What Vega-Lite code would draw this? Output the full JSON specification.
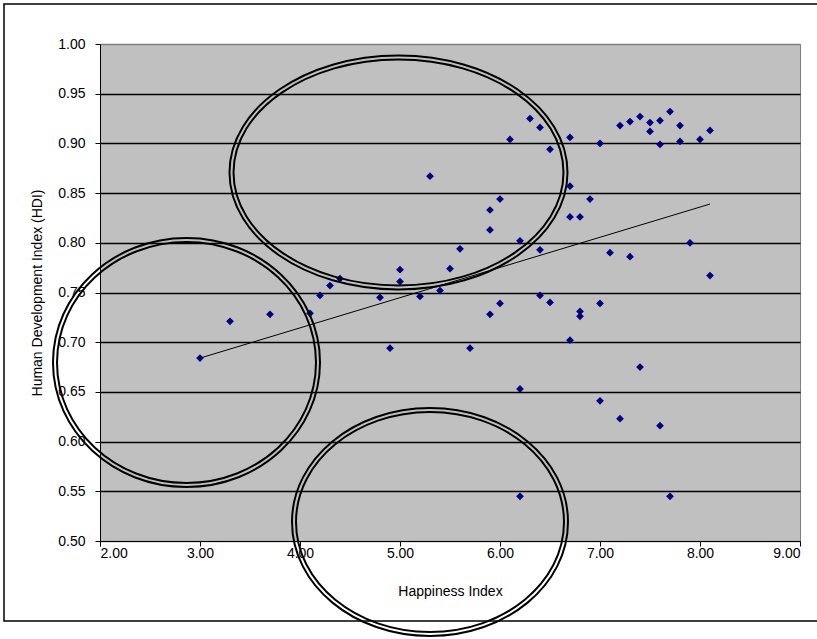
{
  "$schema": "https://vega.github.io/schema/vega-lite/v6.json",
  "width": 700,
  "height": 497,
  "autosize": {"type": "none"},
  "padding": {"left": 100, "top": 44, "right": 17, "bottom": 98},
  "background": "white",
  "config": {
    "view": {"fill": "#C0C0C0", "stroke": "#808080", "strokeWidth": 1},
    "font": "Liberation Sans",
    "axis": {
      "labelFont": "Liberation Sans",
      "labelFontSize": 14,
      "labelColor": "#000000",
      "titleFont": "Liberation Sans",
      "titleFontSize": 14,
      "titleFontWeight": "normal",
      "titleColor": "#000000",
      "domainColor": "#000000",
      "tickColor": "#000000",
      "tickSize": 5
    }
  },
  "datasets": {
    "countries": [
      {"happiness": 3.0, "hdi": 0.684},
      {"happiness": 3.3, "hdi": 0.721},
      {"happiness": 3.7, "hdi": 0.728},
      {"happiness": 4.1, "hdi": 0.729},
      {"happiness": 4.2, "hdi": 0.747},
      {"happiness": 4.3, "hdi": 0.757},
      {"happiness": 4.4, "hdi": 0.764},
      {"happiness": 4.8, "hdi": 0.745},
      {"happiness": 4.9, "hdi": 0.694},
      {"happiness": 5.0, "hdi": 0.773},
      {"happiness": 5.0, "hdi": 0.761},
      {"happiness": 5.2, "hdi": 0.746},
      {"happiness": 5.3, "hdi": 0.867},
      {"happiness": 5.4, "hdi": 0.752},
      {"happiness": 5.5, "hdi": 0.774},
      {"happiness": 5.6, "hdi": 0.794},
      {"happiness": 5.7, "hdi": 0.694},
      {"happiness": 5.9, "hdi": 0.833},
      {"happiness": 5.9, "hdi": 0.813},
      {"happiness": 5.9, "hdi": 0.728},
      {"happiness": 6.0, "hdi": 0.844},
      {"happiness": 6.0, "hdi": 0.739},
      {"happiness": 6.1, "hdi": 0.904},
      {"happiness": 6.2, "hdi": 0.653},
      {"happiness": 6.2, "hdi": 0.802},
      {"happiness": 6.2, "hdi": 0.545},
      {"happiness": 6.3, "hdi": 0.925},
      {"happiness": 6.4, "hdi": 0.916},
      {"happiness": 6.4, "hdi": 0.793},
      {"happiness": 6.4, "hdi": 0.747},
      {"happiness": 6.5, "hdi": 0.894},
      {"happiness": 6.5, "hdi": 0.740},
      {"happiness": 6.7, "hdi": 0.906},
      {"happiness": 6.7, "hdi": 0.857},
      {"happiness": 6.7, "hdi": 0.826},
      {"happiness": 6.7, "hdi": 0.702},
      {"happiness": 6.8, "hdi": 0.826},
      {"happiness": 6.8, "hdi": 0.731},
      {"happiness": 6.8, "hdi": 0.726},
      {"happiness": 6.9, "hdi": 0.844},
      {"happiness": 7.0, "hdi": 0.900},
      {"happiness": 7.0, "hdi": 0.739},
      {"happiness": 7.0, "hdi": 0.641},
      {"happiness": 7.1, "hdi": 0.790},
      {"happiness": 7.2, "hdi": 0.918},
      {"happiness": 7.2, "hdi": 0.623},
      {"happiness": 7.3, "hdi": 0.922},
      {"happiness": 7.3, "hdi": 0.786},
      {"happiness": 7.4, "hdi": 0.927},
      {"happiness": 7.4, "hdi": 0.675},
      {"happiness": 7.5, "hdi": 0.921},
      {"happiness": 7.5, "hdi": 0.912},
      {"happiness": 7.6, "hdi": 0.923},
      {"happiness": 7.6, "hdi": 0.899},
      {"happiness": 7.6, "hdi": 0.616},
      {"happiness": 7.7, "hdi": 0.932},
      {"happiness": 7.7, "hdi": 0.545},
      {"happiness": 7.8, "hdi": 0.918},
      {"happiness": 7.8, "hdi": 0.902},
      {"happiness": 7.9, "hdi": 0.800},
      {"happiness": 8.0, "hdi": 0.904},
      {"happiness": 8.1, "hdi": 0.913},
      {"happiness": 8.1, "hdi": 0.767}
    ],
    "trend": [
      {"happiness": 3.0, "hdi": 0.684},
      {"happiness": 8.1, "hdi": 0.839}
    ],
    "circles": [
      {"name": "top", "happiness": 4.985, "hdi": 0.8707},
      {"name": "left", "happiness": 2.865, "hdi": 0.6796},
      {"name": "bottom", "happiness": 5.30, "hdi": 0.5191}
    ],
    "frame": [
      {"x1": 1.04, "x2": 9.2, "y1": 1.0402, "y2": 0.4195}
    ]
  },
  "layer": [
    {
      "data": {"name": "frame"},
      "mark": {"type": "rect", "fill": null, "fillOpacity": 0, "stroke": "#000000", "strokeWidth": 1.5, "clip": false},
      "encoding": {
        "x": {"field": "x1", "type": "quantitative", "scale": {"domain": [2, 9], "nice": false, "zero": false}},
        "x2": {"field": "x2"},
        "y": {"field": "y1", "type": "quantitative", "scale": {"domain": [0.5, 1.0], "nice": false, "zero": false}},
        "y2": {"field": "y2"}
      }
    },
    {
      "data": {"name": "countries"},
      "mark": {"type": "point", "shape": "diamond", "filled": true, "color": "#000080", "size": 60, "opacity": 1},
      "encoding": {
        "x": {
          "field": "happiness", "type": "quantitative",
          "scale": {"domain": [2, 9], "nice": false, "zero": false},
          "axis": {"title": "Happiness Index", "values": [2, 3, 4, 5, 6, 7, 8, 9], "format": ".2f", "grid": false, "labelPadding": 0, "titlePadding": 24}
        },
        "y": {
          "field": "hdi", "type": "quantitative",
          "scale": {"domain": [0.5, 1.0], "nice": false, "zero": false},
          "axis": {
            "title": "Human Development Index (HDI)",
            "values": [0.5, 0.55, 0.6, 0.65, 0.7, 0.75, 0.8, 0.85, 0.9, 0.95, 1.0],
            "format": ".2f",
            "grid": true,
            "gridColor": {"condition": {"test": "datum.value > 0.99 || datum.value < 0.51", "value": "#808080"}, "value": "#000000"},
            "gridWidth": 1.4,
            "gridOpacity": 1,
            "labelPadding": 10,
            "titlePadding": 13
          }
        }
      }
    },
    {
      "data": {"name": "trend"},
      "mark": {"type": "line", "color": "#000000", "strokeWidth": 1},
      "encoding": {
        "x": {"field": "happiness", "type": "quantitative", "scale": {"domain": [2, 9], "nice": false, "zero": false}},
        "y": {"field": "hdi", "type": "quantitative", "scale": {"domain": [0.5, 1.0], "nice": false, "zero": false}}
      }
    },
    {
      "data": {"name": "circles"},
      "transform": [{"filter": "datum.name === 'top'"}],
      "mark": {
        "type": "point", "filled": false, "stroke": "#000000", "strokeWidth": 2, "opacity": 1, "size": 114244, "clip": false,
        "shape": "M1,0C1,0.3824 0.5523,0.6923 0,0.6923C-0.5523,0.6923 -1,0.3824 -1,0C-1,-0.3824 -0.5523,-0.6923 0,-0.6923C0.5523,-0.6923 1,-0.3824 1,0Z M0.9763,0C0.9763,0.3693 0.5392,0.6686 0,0.6686C-0.5392,0.6686 -0.9763,0.3693 -0.9763,0C-0.9763,-0.3693 -0.5392,-0.6686 0,-0.6686C0.5392,-0.6686 0.9763,-0.3693 0.9763,0Z"
      },
      "encoding": {
        "x": {"field": "happiness", "type": "quantitative", "scale": {"domain": [2, 9], "nice": false, "zero": false}},
        "y": {"field": "hdi", "type": "quantitative", "scale": {"domain": [0.5, 1.0], "nice": false, "zero": false}}
      }
    },
    {
      "data": {"name": "circles"},
      "transform": [{"filter": "datum.name === 'left'"}],
      "mark": {
        "type": "point", "filled": false, "stroke": "#000000", "strokeWidth": 2, "opacity": 1, "size": 71289, "clip": false,
        "shape": "M1,0C1,0.5151 0.5523,0.9326 0,0.9326C-0.5523,0.9326 -1,0.5151 -1,0C-1,-0.5151 -0.5523,-0.9326 0,-0.9326C0.5523,-0.9326 1,-0.5151 1,0Z M0.97,0C0.97,0.4985 0.5357,0.9026 0,0.9026C-0.5357,0.9026 -0.97,0.4985 -0.97,0C-0.97,-0.4985 -0.5357,-0.9026 0,-0.9026C0.5357,-0.9026 0.97,-0.4985 0.97,0Z"
      },
      "encoding": {
        "x": {"field": "happiness", "type": "quantitative", "scale": {"domain": [2, 9], "nice": false, "zero": false}},
        "y": {"field": "hdi", "type": "quantitative", "scale": {"domain": [0.5, 1.0], "nice": false, "zero": false}}
      }
    },
    {
      "data": {"name": "circles"},
      "transform": [{"filter": "datum.name === 'bottom'"}],
      "mark": {
        "type": "point", "filled": false, "stroke": "#000000", "strokeWidth": 2, "opacity": 1, "size": 76176, "clip": false,
        "shape": "M1,0C1,0.4562 0.5523,0.8261 0,0.8261C-0.5523,0.8261 -1,0.4562 -1,0C-1,-0.4562 -0.5523,-0.8261 0,-0.8261C0.5523,-0.8261 1,-0.4562 1,0Z M0.971,0C0.971,0.4402 0.5363,0.7971 0,0.7971C-0.5363,0.7971 -0.971,0.4402 -0.971,0C-0.971,-0.4402 -0.5363,-0.7971 0,-0.7971C0.5363,-0.7971 0.971,-0.4402 0.971,0Z"
      },
      "encoding": {
        "x": {"field": "happiness", "type": "quantitative", "scale": {"domain": [2, 9], "nice": false, "zero": false}},
        "y": {"field": "hdi", "type": "quantitative", "scale": {"domain": [0.5, 1.0], "nice": false, "zero": false}}
      }
    }
  ]
}
